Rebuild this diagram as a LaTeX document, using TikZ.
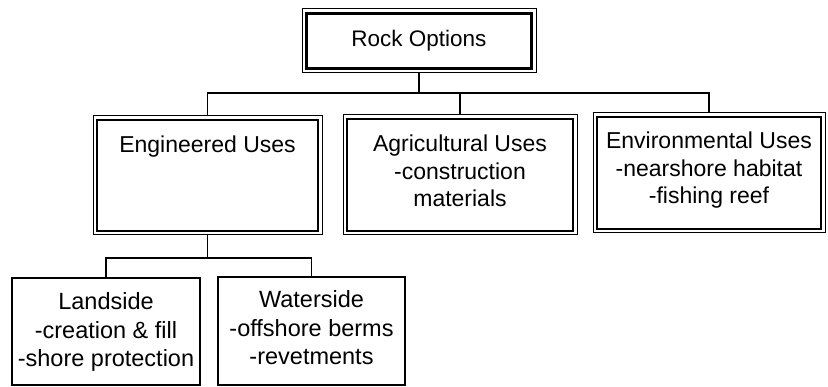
\documentclass[tikz,border=0pt]{standalone}
\usepackage{fontspec}
\setmainfont{Liberation Sans}
\begin{document}
\begin{tikzpicture}[x=1pt,y=1pt,
  outer/.style={draw, line width=1pt, inner sep=0pt},
  plain/.style={draw, line width=1.1pt, inner sep=0pt},
  txt/.style={font=\fontsize{23}{27.8}\selectfont, align=center, inner sep=0pt, anchor=north},
  txtb/.style={font=\fontsize{23.5}{28.5}\selectfont, align=center, inner sep=0pt, anchor=north},
  conn/.style={line width=1.1pt}]
\useasboundingbox (0,0) rectangle (828,387);
% top box
\node[outer, minimum width=234, minimum height=64, font=\fontsize{22.5}{27}\selectfont] (rock) at (419,346) {Rock Options};
\draw[line width=2.6pt] ([shift={(5,-5)}]rock.north west) rectangle ([shift={(-5,5)}]rock.south east);
% level 2
\node[outer, minimum width=229, minimum height=119] (eng) at (207.5,211.5) {};
\node[outer, minimum width=234, minimum height=120] (agr) at (460,212) {};
\node[outer, minimum width=232, minimum height=120] (env) at (709,214) {};
\foreach \n in {eng,agr,env}
  \draw[line width=1.8pt] ([shift={(4.5,-4.5)}]\n.north west) rectangle ([shift={(-4.5,4.5)}]\n.south east);
\node[txt] (engt) at ([yshift=-20]eng.north) {Engineered Uses};
\node[txt] (agrt) at ([yshift=-20]agr.north) {Agricultural Uses\\-construction\\materials};
\node[txt] (envt) at ([yshift=-19]env.north) {Environmental Uses\\-nearshore habitat\\-fishing reef};
% level 3
\node[plain, minimum width=188, minimum height=107] (land) at (106,55.5) {};
\node[plain, minimum width=187, minimum height=108] (water) at (311.5,56) {};
\node[txtb] (landt) at ([yshift=-15]land.north) {Landside\\-creation \& fill\\-shore protection};
\node[txtb] (watert) at ([yshift=-14]water.north) {Waterside\\-offshore berms\\-revetments};
% connectors
\coordinate (bus1) at (419,294);
\coordinate (bus2) at (208,129);
\draw[conn] (rock.south) -- (rock.south |- bus1);
\draw[conn] (eng.north) |- (env.north |- bus1) -- (env.north);
\draw[conn] (agr.north) -- (agr.north |- bus1);
\draw[conn] (eng.south) -- (eng.south |- bus2);
\draw[conn] (land.north) |- (water.north |- bus2) -- (water.north);
\end{tikzpicture}
\end{document}
